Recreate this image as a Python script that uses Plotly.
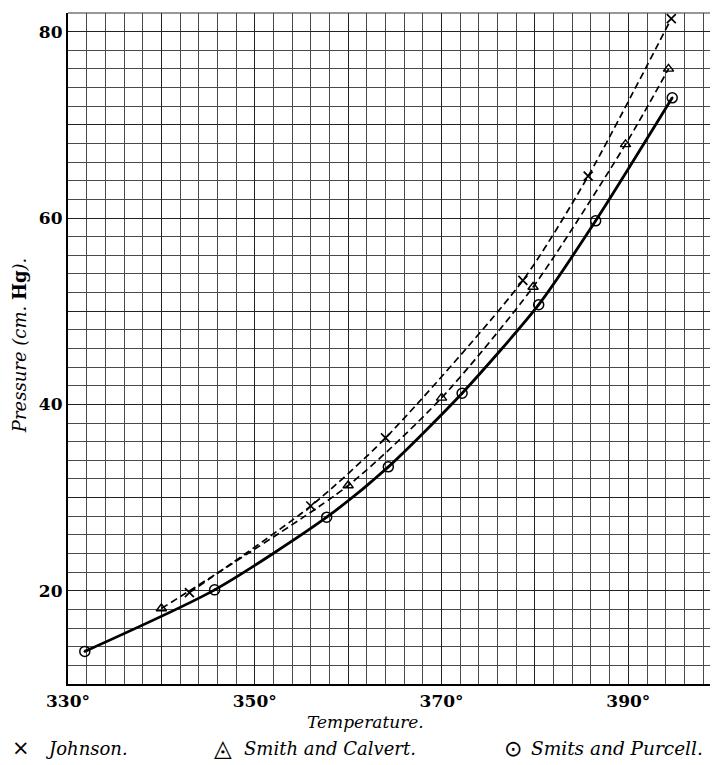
import plotly.graph_objects as go

# Johnson (crosses)
johnson_t = [343.0, 356.0, 364.0, 378.7, 385.7, 394.6]
johnson_p = [19.8, 29.1, 36.4, 53.3, 64.5, 81.4]

# Smith and Calvert (triangles)
smith_t = [340.0, 360.0, 370.0, 379.8, 389.7, 394.3]
smith_p = [18.1, 31.3, 40.7, 52.6, 67.9, 76.0]

# Smits and Purcell (circles)
smits_t = [331.8, 345.7, 357.7, 364.3, 372.2, 380.4, 386.5, 394.7]
smits_p = [13.5, 20.1, 27.9, 33.3, 41.2, 50.7, 59.7, 72.9]

x_tickvals = [330, 340, 350, 360, 370, 380, 390]
x_ticktext = ["330°", "", "350°", "", "370°", "", "390°"]
y_tickvals = [10, 20, 30, 40, 50, 60, 70, 80]
y_ticktext = ["", "20", "", "40", "", "60", "", "80"]

SERIF = "DejaVu Serif, Liberation Serif, serif"

fig = go.Figure()

fig.add_trace(go.Scatter(
    x=johnson_t, y=johnson_p, mode="lines+markers",
    line=dict(color="black", width=1.7, dash="7px,4px", shape="spline", smoothing=0.7),
    marker=dict(symbol="x-thin", size=9, line=dict(color="black", width=1.7)),
    showlegend=False))

fig.add_trace(go.Scatter(
    x=smith_t, y=smith_p, mode="lines+markers",
    line=dict(color="black", width=1.7, dash="7px,4px", shape="spline", smoothing=0.7),
    marker=dict(symbol="triangle-up-open", size=9, color="black", line=dict(color="black", width=1.4)),
    showlegend=False))

fig.add_trace(go.Scatter(
    x=smits_t, y=smits_p, mode="lines+markers",
    line=dict(color="black", width=2.8, shape="spline", smoothing=0.7),
    marker=dict(symbol="circle-open-dot", size=10, color="black",
                line=dict(color="black", width=1.5)),
    showlegend=False))

fig.update_xaxes(
    range=[330, 399.6], tickmode="array", tickvals=x_tickvals, ticktext=x_ticktext,
    showgrid=True, gridcolor="#222", gridwidth=1.4,
    minor=dict(dtick=2, tick0=330, showgrid=True, gridcolor="#4a4a4a", gridwidth=1.1, ticks=""),
    showline=True, linecolor="black", linewidth=2.2, mirror=False,
    ticks="", ticklabelstandoff=0,
    tickfont=dict(family=SERIF, size=17, color="black", weight="bold"),
    zeroline=False)

fig.update_yaxes(
    range=[10, 82], tickmode="array", tickvals=y_tickvals, ticktext=y_ticktext,
    showgrid=True, gridcolor="#222", gridwidth=1.4,
    minor=dict(dtick=2, tick0=10, showgrid=True, gridcolor="#4a4a4a", gridwidth=1.1, ticks=""),
    showline=True, linecolor="black", linewidth=2.2, mirror=False,
    ticks="", ticklabelstandoff=0,
    tickfont=dict(family=SERIF, size=17, color="black", weight="bold"),
    zeroline=False)

# top border line
fig.add_shape(type="line", xref="paper", yref="paper", x0=0, x1=1, y0=1, y1=1,
              line=dict(color="#333", width=1.2))

LEG_Y = -0.0954
annotations = [
    dict(text="<i>Temperature.</i>", x=0.457, y=-0.0566, xref="paper", yref="paper",
         xanchor="center", yanchor="middle", showarrow=False,
         font=dict(family=SERIF, size=17, color="black")),
    dict(text="<i>Pressure (cm. </i><b>Hg</b><i>).</i>", x=-0.0754, y=0.505,
         xref="paper", yref="paper", xanchor="center", yanchor="middle",
         textangle=-90, showarrow=False,
         font=dict(family=SERIF, size=18, color="black")),
    dict(text="×", x=(21 - 68) / 650, y=LEG_Y, xref="paper", yref="paper",
         xanchor="center", yanchor="middle", showarrow=False,
         font=dict(family="DejaVu Sans", size=21, color="black")),
    dict(text="<i>Johnson.</i>", x=(43 - 68) / 650, y=LEG_Y, xref="paper", yref="paper",
         xanchor="left", yanchor="middle", showarrow=False,
         font=dict(family=SERIF, size=18, color="black")),
    dict(text="◬", x=(223 - 68) / 650, y=LEG_Y, xref="paper", yref="paper",
         xanchor="center", yanchor="middle", showarrow=False,
         font=dict(family="DejaVu Sans", size=23, color="black")),
    dict(text="<i>Smith and Calvert.</i>", x=(242 - 68) / 650, y=LEG_Y, xref="paper", yref="paper",
         xanchor="left", yanchor="middle", showarrow=False,
         font=dict(family=SERIF, size=18, color="black")),
    dict(text="⊙", x=(513 - 68) / 650, y=LEG_Y, xref="paper", yref="paper",
         xanchor="center", yanchor="middle", showarrow=False,
         font=dict(family="DejaVu Sans", size=22, color="black")),
    dict(text="<i>Smits and Purcell.</i>", x=(529 - 68) / 650, y=LEG_Y, xref="paper", yref="paper",
         xanchor="left", yanchor="middle", showarrow=False,
         font=dict(family=SERIF, size=18.5, color="black")),
]

# The page body has an 8px margin, so the figure is offset by 8px;
# size and margins compensate so the plot lands where the reference has it.
fig.update_layout(
    width=710, height=757,
    margin=dict(l=60, r=0, t=5, b=81),
    paper_bgcolor="white", plot_bgcolor="white",
    annotations=annotations,
    showlegend=False)

fig.write_html("out.html")
